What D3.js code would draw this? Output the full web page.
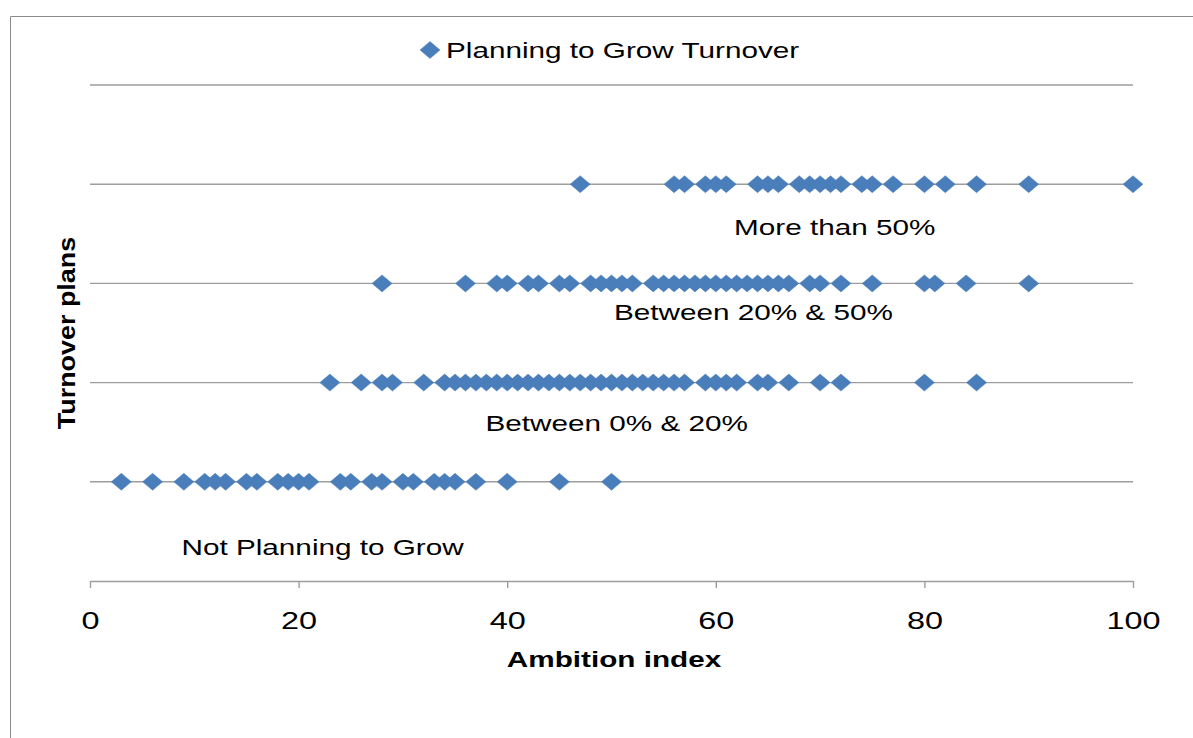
<!DOCTYPE html>
<html>
<head>
<meta charset="utf-8">
<script src="https://cdn.jsdelivr.net/npm/d3@7"></script>
<style>
  html, body { margin: 0; padding: 0; background: #fff; }
  svg { display: block; font-family: "Liberation Sans", Arial, sans-serif; }
</style>
</head>
<body>
<svg id="chart" width="1193" height="738"></svg>
<script>
// ---- data ----
const categories = ["Not Planning to Grow", "Between 0% & 20%", "Between 20% & 50%", "More than 50%"];
const categoryLevels = [1, 2, 3, 4];

const notPlanning = [3, 6, 9, 11, 12, 13, 15, 16, 18, 19, 20, 21, 24, 25, 27, 28, 30, 31, 33, 34, 35, 37, 40, 45, 50];
const growth0to20 = [23, 26, 28, 29, 32, 34, 35, 36, 37, 38, 39, 40, 41, 42, 43, 44, 45, 46, 47, 48, 49, 50,
                     51, 52, 53, 54, 55, 56, 57, 59, 60, 61, 62, 64, 65, 67, 70, 72, 80, 85];
const growth20to50 = [28, 36, 39, 40, 42, 43, 45, 46, 48, 49, 50, 51, 52, 54, 55, 56, 57, 58, 59, 60, 61, 62,
                      63, 64, 65, 66, 67, 69, 70, 72, 75, 80, 81, 84, 90];
const growthOver50 = [47, 56, 57, 59, 60, 61, 64, 65, 66, 68, 69, 70, 71, 72, 74, 75, 77, 80, 82, 85, 90, 100];

const xTicks = [0, 20, 40, 60, 80, 100];
const gridLevels = [1, 2, 3, 4, 5];
const seriesName = "Planning to Grow Turnover";
const xTitle = "Ambition index";
const yTitle = "Turnover plans";

// ---- layout ----
const plot = { left: 90, right: 1133, top: 85, bottom: 581 };
const STRETCH = 1.35;          // horizontal text stretch used throughout
const MARK_W = 10, MARK_H = 8.5;
const BLUE = "#4a7ebb";
const GRID = "#9d9d9d";

// where each category caption sits (x in index units, pixel offset below its row)
const captionPlacement = [
  { cx: 22.3, dy: 73 },
  { cx: 50.5, dy: 48 },
  { cx: 63.6, dy: 37 },
  { cx: 71.4, dy: 51 }
];

const rows = [notPlanning, growth0to20, growth20to50, growthOver50];

const svg = d3.select("#chart");
const x = d3.scaleLinear().domain([0, 100]).range([plot.left, plot.right]);
const y = d3.scaleLinear().domain([0, 5]).range([plot.bottom, plot.top]);

const rhombus = (cx, cy) =>
  `M${cx},${cy - MARK_H}L${cx + MARK_W},${cy}L${cx},${cy + MARK_H}L${cx - MARK_W},${cy}Z`;

// chart area frame (top and left edges visible)
svg.append("path")
  .attr("d", "M10.5,738V16.5H1193")
  .attr("fill", "none")
  .attr("stroke", "#8a8a8a")
  .attr("stroke-width", 1);

// horizontal gridlines
svg.append("g").selectAll("line")
  .data(gridLevels)
  .join("line")
  .attr("x1", x(0)).attr("x2", x(100))
  .attr("y1", d => y(d)).attr("y2", d => y(d))
  .attr("stroke", GRID)
  .attr("stroke-width", 1.4);

// x axis
const xAxis = svg.append("g")
  .attr("transform", `translate(0,${y(0)})`)
  .call(d3.axisBottom(x).tickValues(xTicks).tickSize(7).tickSizeOuter(0).tickFormat(d3.format("d")));
xAxis.select(".domain").attr("stroke", GRID).attr("stroke-width", 1.6);
xAxis.selectAll(".tick line").attr("stroke", GRID).attr("stroke-width", 1.4);
xAxis.selectAll(".tick text")
  .attr("y", 48).attr("dy", null)
  .attr("fill", "#000")
  .attr("font-size", 24)
  .attr("font-family", "'Liberation Sans', Arial, sans-serif")
  .attr("transform", `scale(${STRETCH},1)`);

// axis titles
svg.append("text")
  .attr("transform", `translate(614,667) scale(${STRETCH},1)`)
  .attr("text-anchor", "middle")
  .attr("font-size", 22)
  .attr("font-weight", "bold")
  .text(xTitle);

svg.append("text")
  .attr("transform", "translate(75,333) rotate(-90) scale(1.17,1)")
  .attr("text-anchor", "middle")
  .attr("font-size", 23)
  .attr("font-weight", "bold")
  .text(yTitle);

// category captions
svg.append("g").selectAll("text")
  .data(categories)
  .join("text")
  .attr("transform", (d, i) =>
    `translate(${x(captionPlacement[i].cx)},${y(categoryLevels[i]) + captionPlacement[i].dy}) scale(${STRETCH},1)`)
  .attr("text-anchor", "middle")
  .attr("font-size", 22)
  .attr("fill", "#000")
  .text(d => d);

// markers
const points = rows.flatMap((vals, i) => vals.map(v => ({ v, level: categoryLevels[i] })));
svg.append("g").selectAll("path")
  .data(points)
  .join("path")
  .attr("d", d => rhombus(x(d.v), y(d.level)))
  .attr("fill", BLUE)
  .attr("stroke", BLUE)
  .attr("stroke-width", 0.5);

// legend
const legend = svg.append("g");
legend.append("path")
  .attr("d", rhombus(430, 50))
  .attr("fill", BLUE)
  .attr("stroke", BLUE)
  .attr("stroke-width", 0.5);
legend.append("text")
  .attr("transform", `translate(446,58) scale(${STRETCH},1)`)
  .attr("font-size", 22)
  .attr("fill", "#000")
  .text(seriesName);
</script>
</body>
</html>
